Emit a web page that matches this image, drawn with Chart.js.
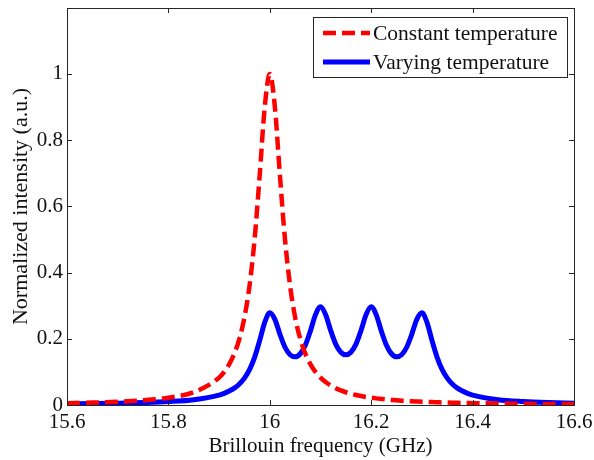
<!DOCTYPE html>
<html>
<head>
<meta charset="utf-8">
<script src="https://cdn.jsdelivr.net/npm/chart.js@4.4.1/dist/chart.umd.min.js"></script>
<style>
  html, body { margin: 0; padding: 0; background: #fff; }
  #wrap { width: 594px; height: 460px; }
</style>
</head>
<body>
<div id="wrap"><canvas id="spectrum" width="594" height="460"></canvas></div>
<script>
// Brillouin frequency (GHz), denser around the peaks
const freq = [
  15.6, 15.65, 15.7, 15.75, 15.8, 15.85,
  15.9, 15.91, 15.92, 15.93, 15.94, 15.95, 15.96, 15.97, 15.98, 15.99,
  16.0, 16.01, 16.02, 16.03, 16.04, 16.05, 16.06, 16.07, 16.08, 16.09,
  16.1, 16.11, 16.12, 16.13, 16.14, 16.15, 16.16, 16.17, 16.18, 16.19,
  16.2, 16.21, 16.22, 16.23, 16.24, 16.25, 16.26, 16.27, 16.28, 16.29,
  16.3, 16.31, 16.32, 16.33, 16.34, 16.35, 16.36, 16.37, 16.38, 16.39,
  16.4, 16.45, 16.5, 16.55, 16.6
];

const constantTemp = [
  0.0056, 0.0073, 0.0099, 0.0142, 0.022, 0.0385,
  0.0826, 0.1, 0.1233, 0.1552, 0.2, 0.2647, 0.36, 0.5, 0.6923, 0.9,
  1.0, 0.9, 0.6923, 0.5, 0.36, 0.2647, 0.2, 0.1552, 0.1233, 0.1,
  0.0826, 0.0692, 0.0588, 0.0506, 0.0439, 0.0385, 0.034, 0.0302, 0.027, 0.0243,
  0.022, 0.02, 0.0183, 0.0167, 0.0154, 0.0142, 0.0131, 0.0122, 0.0113, 0.0106,
  0.0099, 0.0093, 0.0087, 0.0082, 0.0077, 0.0073, 0.0069, 0.0065, 0.0062, 0.0059,
  0.0056, 0.0044, 0.0036, 0.003, 0.0025
];

const varyingTemp = [
  0.0034, 0.0042, 0.0054, 0.0072, 0.0103, 0.0161,
  0.030, 0.0352, 0.042, 0.051, 0.0635, 0.0812, 0.1068, 0.1439, 0.1945, 0.2496,
  0.2786, 0.2587, 0.2135, 0.1744, 0.1518, 0.1455, 0.1548, 0.1806, 0.2232, 0.2723,
  0.2968, 0.2734, 0.2254, 0.184, 0.1595, 0.1516, 0.1595, 0.184, 0.2254, 0.2734,
  0.2968, 0.2723, 0.2232, 0.1806, 0.1548, 0.1455, 0.1518, 0.1744, 0.2135, 0.2587,
  0.2786, 0.2496, 0.1945, 0.1439, 0.1068, 0.0812, 0.0635, 0.051, 0.042, 0.0352,
  0.030, 0.0161, 0.0103, 0.0072, 0.0054
];

const seriesNames = ['Constant temperature', 'Varying temperature'];

const FONT = '"Liberation Serif", "Times New Roman", serif';

const toPoints = (ys) => freq.map((f, i) => ({ x: f, y: ys[i] }));

// MATLAB-like box with inward ticks on all four sides
const boxPlugin = {
  id: 'matlabBox',
  afterDatasetsDraw: (chart) => {
    const ctx = chart.ctx;
    const { left, right, top, bottom } = chart.chartArea;
    const xs = chart.scales.x, ys = chart.scales.y;
    ctx.save();
    ctx.strokeStyle = '#262626';
    ctx.lineWidth = 1;
    ctx.strokeRect(left + 0.5, top + 0.5, right - left, bottom - top);
    ctx.beginPath();
    xs.ticks.forEach(t => {
      const px = Math.round(xs.getPixelForValue(t.value)) + 0.5;
      ctx.moveTo(px, bottom); ctx.lineTo(px, bottom - 5);
      ctx.moveTo(px, top); ctx.lineTo(px, top + 5);
    });
    ys.ticks.forEach(t => {
      const py = Math.round(ys.getPixelForValue(t.value)) + 0.5;
      ctx.moveTo(left, py); ctx.lineTo(left + 5, py);
      ctx.moveTo(right, py); ctx.lineTo(right - 5, py);
    });
    ctx.stroke();
    ctx.restore();
  }
};

const legendPlugin = {
  id: 'insideLegend',
  afterDraw: (chart) => {
    const ctx = chart.ctx;
    const bx = 313, by = 17, bw = 254, bh = 60;
    ctx.save();
    ctx.fillStyle = '#fff';
    ctx.fillRect(bx, by, bw, bh);
    ctx.strokeStyle = '#262626';
    ctx.lineWidth = 1;
    ctx.strokeRect(bx + 0.5, by + 0.5, bw, bh);
    ctx.font = '21.5px ' + FONT;
    ctx.textBaseline = 'middle';
    chart.data.datasets.forEach((ds, i) => {
      const y = by + 16 + i * 29;
      ctx.strokeStyle = ds.borderColor;
      ctx.lineWidth = ds.borderWidth;
      ctx.setLineDash(ds.borderDash || []);
      ctx.beginPath();
      ctx.moveTo(bx + 10, y);
      ctx.lineTo(bx + 57, y);
      ctx.stroke();
      ctx.setLineDash([]);
      ctx.fillStyle = '#111';
      ctx.fillText(ds.label, bx + 60, y + 1);
    });
    ctx.restore();
  }
};

const tickText = (v) => String(+Number(v).toFixed(1));

new Chart(document.getElementById('spectrum'), {
  type: 'line',
  data: {
    datasets: [
      {
        label: seriesNames[0],
        data: toPoints(constantTemp),
        borderColor: '#ff0000',
        borderWidth: 4.5,
        borderDash: [13, 6],
        pointRadius: 0,
        cubicInterpolationMode: 'monotone',
        fill: false
      },
      {
        label: seriesNames[1],
        data: toPoints(varyingTemp),
        borderColor: '#0000ff',
        borderWidth: 5,
        pointRadius: 0,
        cubicInterpolationMode: 'monotone',
        fill: false
      }
    ]
  },
  options: {
    responsive: false,
    animation: false,
    layout: { padding: { left: 4, right: 20, top: 8, bottom: 0 } },
    plugins: { legend: { display: false }, tooltip: { enabled: false } },
    scales: {
      x: {
        type: 'linear',
        min: 15.6,
        max: 16.6,
        afterFit: (s) => { s.height = 55; s.paddingLeft = 0; s.paddingRight = 0; },
        grid: { display: false, drawTicks: false },
        border: { display: false },
        ticks: {
          stepSize: 0.2,
          padding: 5,
          color: '#111',
          font: { family: FONT, size: 21 },
          callback: tickText
        },
        title: {
          display: true,
          text: 'Brillouin frequency (GHz)',
          color: '#111',
          font: { family: FONT, size: 21 },
          padding: { top: 0, bottom: 1 }
        }
      },
      y: {
        min: 0,
        max: 1.199,
        afterFit: (s) => { s.width = 63; s.paddingTop = 0; s.paddingBottom = 0; },
        grid: { display: false, drawTicks: false },
        border: { display: false },
        ticks: {
          stepSize: 0.2,
          includeBounds: false,
          padding: 4,
          color: '#111',
          font: { family: FONT, size: 21 },
          callback: tickText
        },
        title: {
          display: true,
          text: 'Normalized intensity (a.u.)',
          color: '#111',
          font: { family: FONT, size: 22 },
          padding: { top: 4, bottom: 0 }
        }
      }
    }
  },
  plugins: [boxPlugin, legendPlugin]
});
</script>
</body>
</html>
